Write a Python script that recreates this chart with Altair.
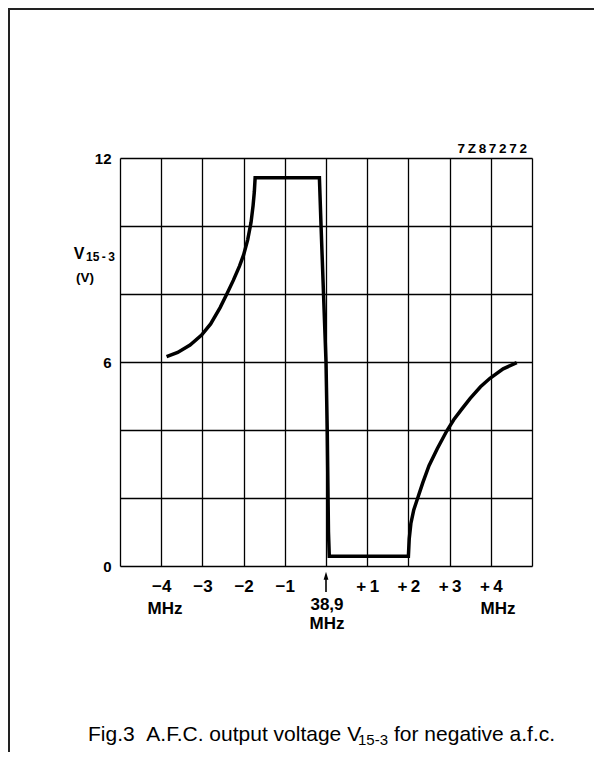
import altair as alt
import pandas as pd

# ---- data ----
freq_mhz = [-3.87, -3.6, -3.3, -3.02, -2.8, -2.57, -2.41, -2.25, -2.1, -2.0, -1.9, -1.82, -1.77, -1.74, -1.72,
            -0.16, -0.12, -0.06, 0.0, 0.03, 0.06, 0.08,
            2.0, 2.02, 2.06, 2.13, 2.24, 2.35, 2.5, 2.7, 2.93, 3.1, 3.3, 3.5, 3.75, 3.98, 4.3, 4.63]
volt_v = [6.16, 6.28, 6.5, 6.79, 7.12, 7.6, 7.99, 8.4, 8.82, 9.15, 9.6, 10.1, 10.6, 11.0, 11.42,
          11.42, 10.0, 8.0, 6.0, 4.0, 1.0, 0.29,
          0.29, 0.8, 1.25, 1.65, 2.05, 2.45, 2.95, 3.45, 3.97, 4.3, 4.62, 4.93, 5.27, 5.52, 5.8, 5.98]
x_grid = [-5, -4, -3, -2, -1, 0, 1, 2, 3, 4, 5]
y_grid = [0, 2, 4, 6, 8, 10, 12]

W, H = 412, 408
FONT = "Liberation Sans"

df = pd.DataFrame({"f": freq_mhz, "v": volt_v, "i": list(range(len(freq_mhz)))})

x_scale = alt.Scale(domain=[-5, 5], nice=False, zero=False)
y_scale = alt.Scale(domain=[0, 12], nice=False, zero=False)

x_axis = alt.Axis(
    values=x_grid, title=None, domain=False, ticks=False,
    grid=True, gridColor="black", gridWidth=1.3, gridOpacity=1,
    labelFont=FONT, labelFontSize=17, labelFontWeight="bold", labelColor="black",
    labelPadding=12, labelFlush=False, labelOverlap=False,
    labelExpr="(datum.value == 0 || abs(datum.value) == 5) ? '' : (datum.value < 0 ? '\u2212' + abs(datum.value) : '+\u2009' + datum.value)",
)
y_axis = alt.Axis(
    values=y_grid, title=None, domain=False, ticks=False,
    grid=True, gridColor="black", gridWidth=1.3, gridOpacity=1,
    labelFont=FONT, labelFontSize=15, labelFontWeight="bold", labelColor="black",
    labelPadding=9, labelFlush=False, labelOverlap=False,
    labelExpr="datum.value % 6 == 0 ? datum.value : ''",
)

curve = alt.Chart(df).mark_line(color="black", strokeWidth=3.5, strokeJoin="miter").encode(
    x=alt.X("f:Q", scale=x_scale, axis=x_axis),
    y=alt.Y("v:Q", scale=y_scale, axis=y_axis),
    order="i:Q",
)

one = pd.DataFrame({"k": [0]})

def txt(text, x, y, size, weight="bold", align="center", baseline="middle"):
    return alt.Chart(one).mark_text(
        text=text, font=FONT, fontSize=size, fontWeight=weight, align=align,
        baseline=baseline, color="black",
    ).encode(x=alt.value(x), y=alt.value(y))

# arrow marking 38,9 MHz
arrow_shaft = alt.Chart(one).mark_rule(color="black", strokeWidth=1.6).encode(
    x=alt.datum(0), y=alt.value(H + 9), y2=alt.value(H + 26)
)
arrow_head = alt.Chart(one).mark_point(
    shape="M 0 -1 L 0.6 1 L -0.6 1 Z", size=64, filled=True, color="black", opacity=1
).encode(x=alt.datum(0), y=alt.value(H + 9.7))

# frame lines (top and left)
frame_top = alt.Chart(one).mark_rule(color="#222", strokeWidth=2).encode(
    x=alt.value(-112), x2=alt.value(480), y=alt.value(-149)
)
frame_left = alt.Chart(one).mark_rule(color="#222", strokeWidth=2).encode(
    x=alt.value(-111), y=alt.value(-150), y2=alt.value(700)
)

texts = [
    txt("7\u2009Z\u20098\u20097\u20092\u20097\u20092", 407, -5, 13.5, align="right", baseline="alphabetic"),
    txt("V", -41, 101, 16, baseline="alphabetic"),
    txt("15\u2009-\u20093", -34, 103, 12, align="left", baseline="alphabetic"),
    txt("(V)", -35, 120, 13.5),
    txt("MHz", 45, 451, 17),
    txt("38,9", 207, 447, 17),
    txt("MHz", 207, 466, 17),
    txt("MHz", 378, 451, 17),
    txt("Fig.3 \u00a0A.F.C. output voltage V", -32, 582.5, 21, weight="normal", align="left", baseline="alphabetic"),
    txt("15-3", 238, 587, 15, weight="normal", align="left", baseline="alphabetic"),
    txt("for negative a.f.c.", 274, 582.5, 21, weight="normal", align="left", baseline="alphabetic"),
]

chart = alt.layer(curve, arrow_shaft, arrow_head, frame_top, frame_left, *texts).properties(
    width=W, height=H,
    padding={"left": 112, "top": 150, "right": 62, "bottom": 186},
    autosize=alt.AutoSizeParams(type="none"),
).configure_view(stroke="black", strokeWidth=1.5).configure(background="white")

chart.save("out.html", embed_options={"renderer": "svg", "actions": False})
